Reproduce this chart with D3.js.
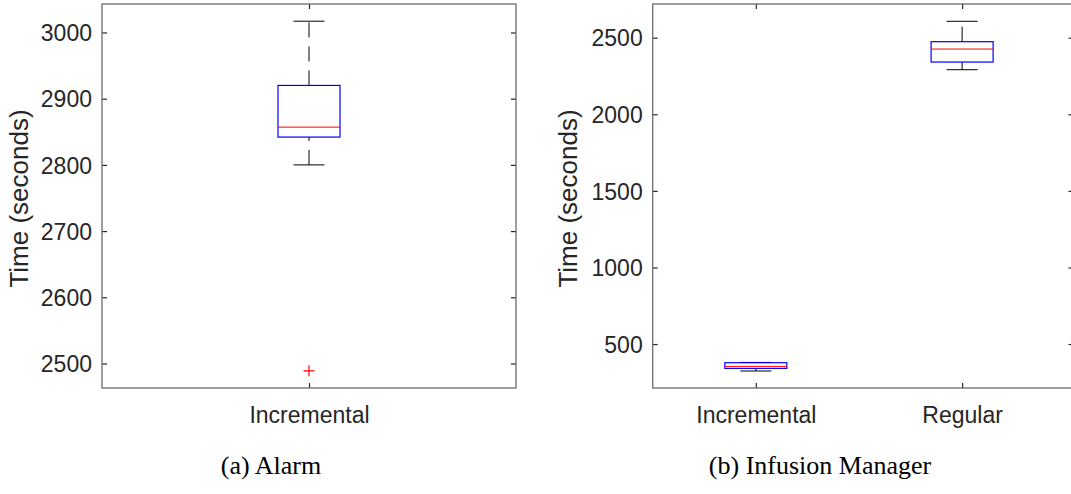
<!DOCTYPE html>
<html lang="en">
<head>
<meta charset="UTF-8">
<title>Boxplots</title>
<style>
    body{ margin:0; background:white; }
    svg{ display:block; }
    .tick text{ font-family:"Liberation Sans", Arial, sans-serif; font-size:23px; fill:#262626; }
    .ylab{ font-family:"Liberation Sans", Arial, sans-serif; font-size:26px; fill:#262626; }
    .cap{ font-family:"Liberation Serif", "Times New Roman", serif; font-size:26px; fill:#000; }
</style>
</head>
<body>
<script src="https://d3js.org/d3.v7.min.js"></script>
<script>

// (a) Alarm
var alarmCats = ["Incremental"];
var alarmLow = [2800], alarmQ1 = [2842], alarmMed = [2857], alarmQ3 = [2920], alarmHigh = [3017];
var alarmOut = [[1, 2489]];
var alarmTicks = [2500, 2600, 2700, 2800, 2900, 3000];

// (b) Infusion Manager
var infCats = ["Incremental", "Regular"];
var infLow = [324, 2291], infQ1 = [341, 2341], infMed = [354, 2426], infQ3 = [378, 2474], infHigh = [380, 2607];
var infOut = [];
var infTicks = [500, 1000, 1500, 2000, 2500];

var width = 1071, height = 494;

var svg = d3.select("body").append("svg")
        .attr("width", width)
        .attr("height", height);

function panel(opt){
    var x = d3.scaleLinear().domain(opt.xdom).range([opt.left, opt.right]);
    var y = d3.scaleLinear().domain(opt.ydom).range([388, 4]);
    var g = svg.append("g");
    var idx = opt.cats.map(function(d,i){ return i + 1; });

    // ticks
    g.append("g").attr("transform","translate(" + opt.left + ",0)")
        .call(d3.axisLeft(y).tickValues(opt.ticks).tickSize(-5).tickPadding(10).tickFormat(d3.format("d")))
        .call(function(a){ a.select(".domain").remove(); a.selectAll("text").attr("dy","0.36em"); });
    g.append("g").attr("transform","translate(" + opt.right + ",0)")
        .call(d3.axisRight(y).tickValues(opt.ticks).tickSize(-5).tickFormat(""))
        .call(function(a){ a.select(".domain").remove(); });
    g.append("g").attr("transform","translate(0,388)")
        .call(d3.axisBottom(x).tickValues(idx).tickSize(-5).tickFormat(function(d){ return opt.cats[d-1]; }))
        .call(function(a){ a.select(".domain").remove(); a.selectAll("text").attr("y",35).attr("dy",0); });
    g.append("g").attr("transform","translate(0,4)")
        .call(d3.axisTop(x).tickValues(idx).tickSize(-5).tickFormat(""))
        .call(function(a){ a.select(".domain").remove(); });
    g.selectAll(".tick line").attr("stroke","#262626").attr("stroke-width",1.2);

    g.append("rect")
        .attr("x", opt.left).attr("y", 4)
        .attr("width", opt.right - opt.left).attr("height", 384)
        .attr("fill","none").attr("stroke","#6a6a6a").attr("stroke-width",1.3);

    var boxW = 62, capW = 31;
    var data = idx.map(function(k,i){
        return {k:k, lo:opt.lo[i], q1:opt.q1[i], med:opt.med[i], q3:opt.q3[i], hi:opt.hi[i]};
    });

    var b = g.selectAll(".bx").data(data).enter().append("g").attr("class","bx");

    // whiskers drawn from low value to high value
    b.append("line")
        .attr("x1", function(d){ return x(d.k); }).attr("x2", function(d){ return x(d.k); })
        .attr("y1", function(d){ return y(d.q3); }).attr("y2", function(d){ return y(d.hi); })
        .attr("stroke","#000").attr("stroke-dasharray","15,9");
    b.append("line")
        .attr("x1", function(d){ return x(d.k); }).attr("x2", function(d){ return x(d.k); })
        .attr("y1", function(d){ return y(d.lo); }).attr("y2", function(d){ return y(d.q1); })
        .attr("stroke","#000").attr("stroke-dasharray","15,9");
    ["lo","hi"].forEach(function(key){
        b.append("line")
            .attr("x1", function(d){ return x(d.k) - capW/2; }).attr("x2", function(d){ return x(d.k) + capW/2; })
            .attr("y1", function(d){ return y(d[key]); }).attr("y2", function(d){ return y(d[key]); })
            .attr("stroke","#000");
    });

    b.append("rect")
        .attr("x", function(d){ return x(d.k) - boxW/2; })
        .attr("y", function(d){ return y(d.q3); })
        .attr("width", boxW)
        .attr("height", function(d){ return y(d.q1) - y(d.q3); })
        .attr("fill","none").attr("stroke","#0000ff").attr("stroke-width",1.2);

    b.append("line")
        .attr("x1", function(d){ return x(d.k) - boxW/2; }).attr("x2", function(d){ return x(d.k) + boxW/2; })
        .attr("y1", function(d){ return y(d.med); }).attr("y2", function(d){ return y(d.med); })
        .attr("stroke","#ff0000");

    g.selectAll(".out").data(opt.out).enter().append("path")
        .attr("class","out")
        .attr("d", function(d){
            var cx = x(d[0]), cy = y(d[1]);
            return "M" + (cx-5.5) + "," + cy + "H" + (cx+5.5) + "M" + cx + "," + (cy-5.5) + "V" + (cy+5.5);
        })
        .attr("stroke","#ff0000").attr("stroke-width",1.2);

    svg.append("text").attr("class","ylab")
        .attr("transform","translate(" + opt.labx + ",198.5) rotate(-90)")
        .attr("text-anchor","middle")
        .text("Time (seconds)");

    svg.append("text").attr("class","cap")
        .attr("x", opt.capx).attr("y", 474)
        .attr("text-anchor","middle")
        .text(opt.caption);
}

panel({cats:alarmCats, lo:alarmLow, q1:alarmQ1, med:alarmMed, q3:alarmQ3, hi:alarmHigh, out:alarmOut,
       ticks:alarmTicks, xdom:[0.5, 1.5], ydom:[2463, 3043], left:102, right:516,
       labx:28, capx:271, caption:"(a) Alarm"});

panel({cats:infCats, lo:infLow, q1:infQ1, med:infMed, q3:infQ3, hi:infHigh, out:infOut,
       ticks:infTicks, xdom:[0.5, 2.54], ydom:[213, 2720], left:652.7, right:1073.5,
       labx:577, capx:820, caption:"(b) Infusion Manager"});

</script>
</body>
</html>
